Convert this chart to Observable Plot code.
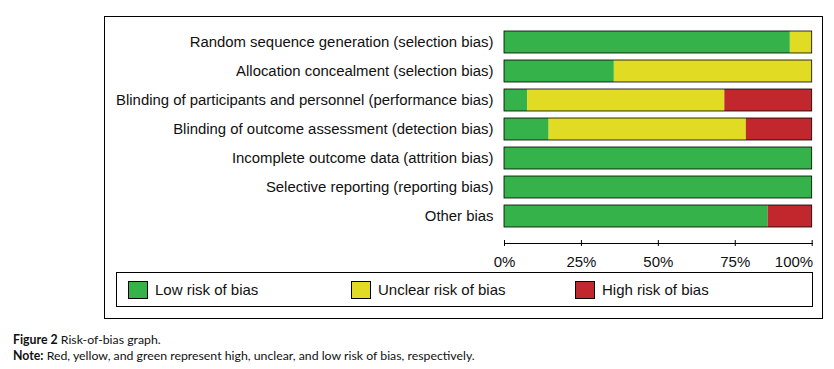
<!DOCTYPE html>
<html>
<head>
<meta charset="utf-8">
<script src="https://cdn.jsdelivr.net/npm/d3@7"></script>
<script src="https://cdn.jsdelivr.net/npm/@observablehq/plot@0.6"></script>
<style>
  html, body { margin: 0; padding: 0; background: #fff; }
  #wrap { position: relative; width: 834px; height: 369px; overflow: hidden; }
  #chart { position: absolute; left: 0; top: 0; }
  .box { position: absolute; border: 1px solid #000; box-sizing: border-box; }
  #legend { font-family: "Liberation Sans", Arial, sans-serif; font-size: 15px; color: #111; }
  .item { position: absolute; top: 0; height: 33px; display: flex; align-items: center; }
  .sw { width: 20px; height: 18px; border: 1px solid #000; box-sizing: border-box; margin-right: 7px; }
  #caption { position: absolute; left: 13px; top: 332px; font-family: Lato, "Open Sans", sans-serif; font-size: 12.3px; line-height: 16px; color: #111; }
  #caption b { font-weight: 700; }
</style>
</head>
<body>
<div id="wrap">
  <div id="chart"></div>
  <div class="box" style="left:104px; top:16px; width:719px; height:303px;"></div>
  <div id="legend" class="box" style="left:116px; top:272px; width:697px; height:35px;"></div>
  <div id="caption">
    <div><b>Figure 2</b> Risk-of-bias graph.</div>
    <div><b>Note:</b> Red, yellow, and green represent high, unclear, and low risk of bias, respectively.</div>
  </div>
</div>
<script>
const categories = [
  "Random sequence generation (selection bias)",
  "Allocation concealment (selection bias)",
  "Blinding of participants and personnel (performance bias)",
  "Blinding of outcome assessment (detection bias)",
  "Incomplete outcome data (attrition bias)",
  "Selective reporting (reporting bias)",
  "Other bias"
];
const lowRisk     = [92.9, 35.7, 7.5, 14.5, 100, 100, 85.7];
const unclearRisk = [7.1, 64.3, 64.1, 64.1, 0, 0, 0];
const highRisk    = [0, 0, 28.4, 21.4, 0, 0, 14.3];
const seriesNames = ["Low risk of bias", "Unclear risk of bias", "High risk of bias"];
const seriesColors = ["#35b34a", "#e1dc23", "#c1272d"];
const tickValues = [0, 25, 50, 75, 100];
const tickLabels = ["0%", "25%", "50%", "75%", "100%"];

const seriesValues = [lowRisk, unclearRisk, highRisk];
const rows = [];
categories.forEach((c, i) => {
  seriesNames.forEach((s, j) => {
    rows.push({category: c, risk: s, value: seriesValues[j][i]});
  });
});
const totals = categories.map((c, i) => ({category: c, total: lowRisk[i] + unclearRisk[i] + highRisk[i]}));
const fmt = v => tickLabels[tickValues.indexOf(v)];

const chart = Plot.plot({
  width: 834,
  height: 320,
  marginLeft: 504,
  marginRight: 22,
  marginTop: 20,
  marginBottom: 80,
  style: {fontFamily: "'Liberation Sans', Arial, sans-serif", fontSize: "15px", color: "#111", background: "#fff"},
  x: {domain: [0, 100], range: [504, 811.7]},
  y: {domain: categories, range: [21.9, 235.5], padding: 0.24},
  color: {domain: seriesNames, range: seriesColors},
  marks: [
    Plot.barX(rows, {x: "value", y: "category", fill: "risk", order: null}),
    Plot.barX(totals, {x1: 0, x2: "total", y: "category", fill: "none", stroke: "#000", strokeWidth: 0.8}),
    Plot.frame({anchor: "bottom", dy: 3, stroke: "#000"}),
    Plot.axisX(tickValues, {tickSize: 6, fill: "none", stroke: "#000"}),
    Plot.axisX(tickValues.slice(0, 4), {tickSize: 0, tickPadding: 16, tickFormat: fmt, fontSize: 15}),
    Plot.axisX(tickValues.slice(4), {tickSize: 0, tickPadding: 16, tickFormat: fmt, fontSize: 15, textAnchor: "end", dx: 1}),
    Plot.axisY({tickSize: 0, tickPadding: 11, fontSize: 14.9, label: null})
  ]
});
document.getElementById("chart").appendChild(chart);

const legend = document.getElementById("legend");
const legendX = [11, 234, 458];
seriesNames.forEach((s, j) => {
  const it = document.createElement("div");
  it.className = "item";
  it.style.left = legendX[j] + "px";
  const sw = document.createElement("div");
  sw.className = "sw";
  sw.style.background = seriesColors[j];
  const tx = document.createElement("span");
  tx.textContent = s;
  it.appendChild(sw);
  it.appendChild(tx);
  legend.appendChild(it);
});
</script>
</body>
</html>
